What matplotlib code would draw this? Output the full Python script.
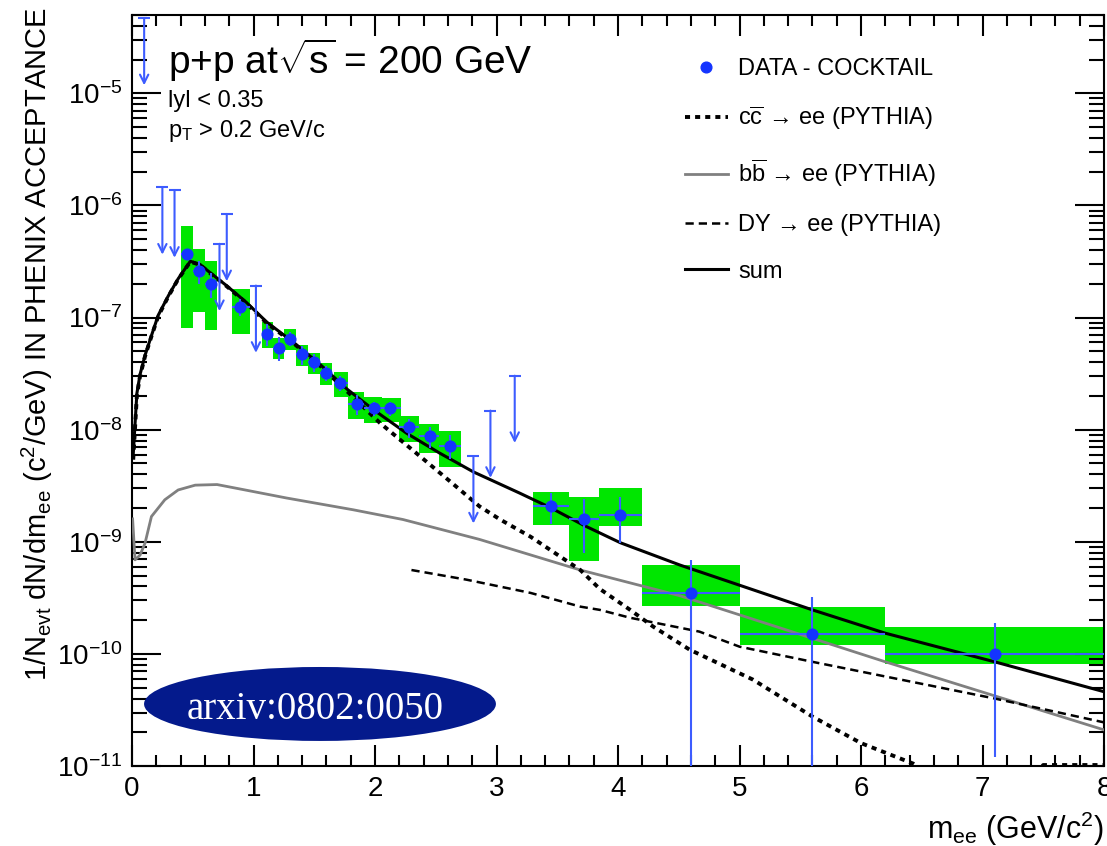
import numpy as np
import matplotlib.pyplot as plt
from matplotlib.patches import Ellipse, Rectangle
from matplotlib.lines import Line2D
from matplotlib.ticker import MultipleLocator, LogLocator, NullFormatter

plt.rcParams['font.family'] = ['Liberation Sans', 'DejaVu Sans']
plt.rcParams['mathtext.fontset'] = 'custom'
plt.rcParams['mathtext.rm'] = 'Liberation Sans'
plt.rcParams['mathtext.it'] = 'Liberation Sans:italic'
plt.rcParams['mathtext.bf'] = 'Liberation Sans:bold'

# data - cocktail: bin centres, bin edges, yield, stat and syst errors
m_ee = [0.45, 0.55, 0.65, 0.89, 1.11, 1.21, 1.30, 1.40, 1.50, 1.60, 1.71, 1.85,
        1.99, 2.12, 2.28, 2.45, 2.62, 3.45, 3.72, 4.02, 4.60, 5.60, 7.10]
bin_lo = [0.40, 0.50, 0.60, 0.82, 1.07, 1.16, 1.25, 1.35, 1.45, 1.55, 1.66, 1.78,
          1.91, 2.06, 2.20, 2.36, 2.53, 3.30, 3.60, 3.84, 4.20, 5.00, 6.20]
bin_hi = [0.50, 0.60, 0.70, 0.97, 1.16, 1.25, 1.35, 1.45, 1.55, 1.65, 1.78, 1.91,
          2.06, 2.21, 2.36, 2.53, 2.71, 3.60, 3.84, 4.20, 5.00, 6.20, 8.00]
yld = [3.7e-7, 2.6e-7, 2.0e-7, 1.25e-7, 7.2e-8, 5.4e-8, 6.5e-8, 4.7e-8, 4.0e-8,
       3.2e-8, 2.6e-8, 1.7e-8, 1.55e-8, 1.55e-8, 1.05e-8, 8.7e-9, 7.2e-9,
       2.1e-9, 1.6e-9, 1.75e-9, 3.5e-10, 1.5e-10, 1.0e-10]
stat = [2.5e-8, 6e-8, 5e-8, 2.2e-8, 1.6e-8, 1.3e-8, 9e-9, 9e-9, 7e-9, 5e-9,
        4e-9, 3.5e-9, 2.3e-9, 2.3e-9, 2.0e-9, 1.8e-9, 1.7e-9,
        6.5e-10, 8.0e-10, 7.7e-10, 3.45e-10, 1.7e-10, 8.8e-11]
sys_up = [2.9e-7, 1.47e-7, 1.22e-7, 5.3e-8, 1.9e-8, 1.15e-8, 1.35e-8, 1.0e-8,
          8.5e-9, 7.0e-9, 6.5e-9, 4.5e-9, 4.1e-9, 3.8e-9, 2.7e-9, 2.55e-9,
          2.55e-9, 6.8e-10, 9.3e-10, 1.25e-9, 2.7e-10, 1.1e-10, 7.4e-11]
sys_dn = [2.9e-7, 1.47e-7, 1.22e-7, 5.3e-8, 1.9e-8, 1.15e-8, 1.35e-8, 1.0e-8,
          8.5e-9, 7.0e-9, 6.5e-9, 4.5e-9, 4.1e-9, 3.8e-9, 2.7e-9, 2.55e-9,
          2.55e-9, 6.8e-10, 9.3e-10, 3.8e-10, 8.0e-11, 3.0e-11, 1.8e-11]

# 90% CL upper limits
ul_m = [0.10, 0.25, 0.35, 0.72, 0.78, 1.02, 2.81, 2.95, 3.15]
ul_val = [4.7e-5, 1.45e-6, 1.36e-6, 4.55e-7, 8.4e-7, 1.93e-7, 5.8e-9, 1.48e-8, 3.03e-8]

# PYTHIA curves
cc_m = [0.01, 0.04, 0.066, 0.107, 0.16, 0.216, 0.30, 0.38, 0.48, 0.56, 0.64, 0.78,
        0.94, 1.11, 1.33, 1.55, 1.77, 2.04, 2.37, 2.64, 2.86, 3.03, 3.28, 3.69,
        3.85, 4.10, 4.29, 4.59, 5.11, 5.60, 6.00, 6.43, 6.60, 7.40, 7.50, 8.00]
cc_y = [5.4e-9, 2.0e-8, 3.0e-8, 4.5e-8, 6.8e-8, 1.03e-7, 1.55e-7, 2.2e-7, 3.15e-7,
        2.95e-7, 2.5e-7, 1.9e-7, 1.35e-7, 8.9e-8, 5.9e-8, 3.7e-8, 2.2e-8, 1.15e-8,
        5.8e-9, 3.3e-9, 2.07e-9, 1.58e-9, 1.11e-9, 5.6e-10, 3.8e-10, 2.47e-10,
        1.75e-10, 1.09e-10, 5.9e-11, 2.76e-11, 1.6e-11, 1.05e-11, 8e-12, 8e-12,
        1.02e-11, 1.02e-11]
bb_m = [0.005, 0.025, 0.066, 0.107, 0.16, 0.27, 0.38, 0.52, 0.70, 0.86, 1.27,
        1.82, 2.23, 2.45, 2.86, 3.69, 4.51, 5.0, 6.2, 8.0]
bb_y = [1.6e-9, 6.9e-10, 7.6e-10, 9.7e-10, 1.68e-9, 2.37e-9, 2.9e-9, 3.2e-9,
        3.24e-9, 3.0e-9, 2.46e-9, 1.93e-9, 1.58e-9, 1.37e-9, 1.05e-9, 5.6e-10,
        3.3e-10, 2.23e-10, 8.5e-11, 2.1e-11]
dy_m = [2.30, 2.75, 3.28, 3.69, 3.85, 4.10, 4.67, 5.0, 5.6, 7.1, 8.0]
dy_y = [5.6e-10, 4.6e-10, 3.5e-10, 2.64e-10, 2.47e-10, 2.1e-10, 1.58e-10,
        1.16e-10, 8.5e-11, 4.0e-11, 2.45e-11]
sum_m = [0.01, 0.04, 0.066, 0.107, 0.16, 0.216, 0.30, 0.38, 0.48, 0.56, 0.64,
         0.78, 0.94, 1.11, 1.33, 1.55, 1.77, 1.99, 2.26, 2.53, 2.81, 3.19, 3.45,
         3.72, 4.02, 4.51, 5.0, 5.6, 6.2, 7.1, 8.0]
sum_y = [6.0e-9, 2.1e-8, 3.1e-8, 4.6e-8, 6.9e-8, 1.05e-7, 1.57e-7, 2.22e-7,
         3.18e-7, 2.98e-7, 2.53e-7, 1.92e-7, 1.37e-7, 9.1e-8, 6.0e-8, 3.8e-8,
         2.3e-8, 1.5e-8, 9.3e-9, 6.2e-9, 4.2e-9, 2.72e-9, 2.0e-9, 1.4e-9, 9.8e-10,
         6.2e-10, 4.1e-10, 2.47e-10, 1.53e-10, 8.5e-11, 4.6e-11]

BLUE = '#1434ff'
BAR_BLUE = '#3d5cff'
GREEN = '#00e600'

W, H = 1107, 846
fig = plt.figure(figsize=(W / 100, H / 100), dpi=100)
ax = fig.add_axes([132 / W, 80 / H, 972 / W, 751 / H])
ax.set_yscale('log')
ax.set_xlim(0, 8)
ax.set_ylim(1e-11, 5e-5)

m = np.array(m_ee)
y = np.array(yld)
lo = np.array(bin_lo)
hi = np.array(bin_hi)

# systematic boxes
for xl, xh, yc, su, sd in zip(lo, hi, y, sys_up, sys_dn):
    ax.add_patch(Rectangle((xl, yc - sd), xh - xl, su + sd, facecolor=GREEN,
                           edgecolor='none', zorder=1))

# model curves
ax.plot(bb_m, bb_y, color='#808080', lw=2.0, zorder=3)
ax.plot(dy_m, dy_y, color='black', lw=1.8, ls=(0, (3.3, 2.0)), zorder=3)
ax.plot(cc_m, cc_y, color='black', lw=2.8, ls=(0, (1.3, 1.3)), zorder=3)
ax.plot(sum_m, sum_y, color='black', lw=2.2, zorder=3)

# statistical errors, lower edge kept positive for the log axis
stat = np.array(stat)
stat_lo = np.minimum(stat, y - 1e-13)
ax.errorbar(m, y, xerr=[m - lo, hi - m], yerr=[stat_lo, stat], fmt='none',
            ecolor=BAR_BLUE, elinewidth=1.5, capsize=0, zorder=4)
ax.plot(m, y, 'o', ms=7.7, color=BLUE, mec=BLUE, zorder=5)

# upper limits: cap plus downward arrow
for xu, vu in zip(ul_m, ul_val):
    ax.annotate('', xy=(xu, vu / 10**0.6), xytext=(xu, vu),
                arrowprops=dict(arrowstyle='->,head_length=0.6,head_width=0.3',
                                color=BAR_BLUE, lw=1.5, shrinkA=0, shrinkB=0),
                zorder=4)
ax.plot(ul_m, ul_val, ls='none', marker='_', ms=8, mew=1.5, color=BAR_BLUE, zorder=4)

# axes styling
ax.xaxis.set_major_locator(MultipleLocator(1))
ax.xaxis.set_minor_locator(MultipleLocator(0.2))
ax.yaxis.set_major_locator(LogLocator(base=10, numticks=20))
ax.yaxis.set_minor_locator(LogLocator(base=10, subs=np.arange(2, 10), numticks=20))
ax.yaxis.set_minor_formatter(NullFormatter())
ax.tick_params(which='both', direction='in', top=True, right=True, width=1.5,
               colors='black')
ax.tick_params(axis='x', which='major', length=15, labelsize=20, pad=7)
ax.tick_params(axis='x', which='minor', length=8)
ax.tick_params(axis='y', which='major', length=21, labelsize=20, pad=7)
ax.tick_params(axis='y', which='minor', length=11)
for sp in ax.spines.values():
    sp.set_linewidth(1.5)

ax.set_xlabel(r'm$_{\mathrm{ee}}$ (GeV/c$^{2}$)', fontsize=22, ha='right')
ax.xaxis.set_label_coords(1.0, -0.058)
ax.set_ylabel(r'1/N$_{\mathrm{evt}}$ dN/dm$_{\mathrm{ee}}$ (c$^{2}$/GeV) IN PHENIX ACCEPTANCE',
              fontsize=21)
ax.yaxis.set_label_coords(-0.079, 0.562)

# annotations
ax.text(0.037, 0.921, r'p+p at$\sqrt{\mathrm{s}}$ = 200 GeV', fontsize=28,
        transform=ax.transAxes, va='baseline')
ax.text(0.037, 0.8775, 'lyl < 0.35', fontsize=17, transform=ax.transAxes,
        va='baseline')
ax.text(0.037, 0.8375, r'p$_{\mathrm{T}}$ > 0.2 GeV/c', fontsize=17,
        transform=ax.transAxes, va='baseline')

handles = [
    Line2D([], [], ls='none', marker='o', ms=7.7, color=BLUE),
    Line2D([], [], color='black', lw=2.8, ls=(0, (1.3, 1.3))),
    Line2D([], [], color='#808080', lw=2.0),
    Line2D([], [], color='black', lw=1.8, ls=(0, (3.3, 2.0))),
    Line2D([], [], color='black', lw=2.2),
]
labels = ['DATA - COCKTAIL',
          r'c$\overline{\mathrm{c}}$ → ee (PYTHIA)',
          r'b$\overline{\mathrm{b}}$ → ee (PYTHIA)',
          'DY → ee (PYTHIA)',
          'sum']
ax.legend(handles, labels, loc='upper left', bbox_to_anchor=(0.569, 0.943),
          frameon=False, fontsize=17, borderpad=0, borderaxespad=0,
          handlelength=1.8, handletextpad=0.45, labelspacing=1.05)

ax.add_patch(Ellipse((0.1934, 0.0826), 0.362, 0.0985, transform=ax.transAxes,
                     facecolor='#041a8c', edgecolor='none', zorder=6))
ax.text(0.188, 0.0626, 'arxiv:0802:0050', transform=ax.transAxes, ha='center',
        va='baseline', fontsize=28, color='white', family='Liberation Serif',
        zorder=7)

fig.savefig('out.png', dpi=100)
